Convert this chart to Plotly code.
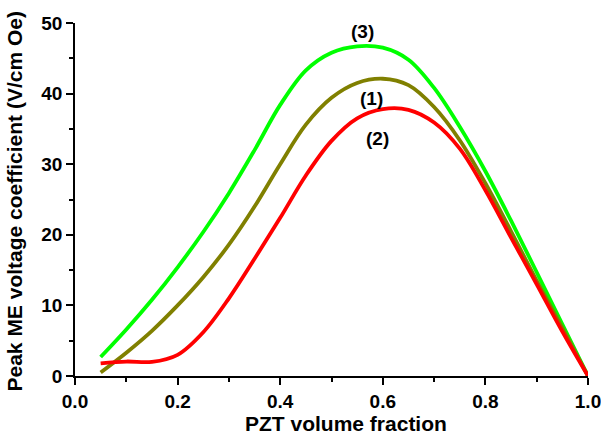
import plotly.graph_objects as go

# PZT volume fraction sample points
x_vals = [0.05, 0.10, 0.15, 0.20, 0.25, 0.30, 0.35, 0.40, 0.45, 0.50,
          0.55, 0.60, 0.65, 0.70, 0.75, 0.80, 0.85, 0.90, 0.95, 1.00]

# Curve (1) - olive
curve1 = [0.5, 3.3, 6.4, 10.0, 14.0, 18.6, 24.0, 30.0, 35.6, 39.4,
          41.5, 42.1, 41.2, 38.1, 33.4, 27.3, 20.5, 13.5, 6.8, 0.0]

# Curve (2) - red
curve2 = [1.8, 2.05, 2.0, 3.0, 6.2, 11.0, 16.6, 22.4, 28.4, 33.3,
          36.5, 37.8, 37.7, 35.9, 32.2, 26.3, 19.6, 13.0, 6.3, 0.0]

# Curve (3) - green
curve3 = [2.7, 6.6, 10.8, 15.4, 20.4, 25.9, 32.0, 38.4, 43.3, 45.8,
          46.7, 46.5, 44.8, 40.8, 35.3, 29.0, 22.0, 14.7, 7.3, 0.0]

# Curve labels
label_text = ["(3)", "(1)", "(2)"]
label_x = [0.561, 0.578, 0.589]
label_y = [48.8, 39.3, 33.6]

x_title = "PZT volume fraction"
y_title = "Peak ME voltage coefficient (V/cm Oe)"

FONT = "Liberation Sans, Arial, sans-serif"
FS = 21
TFS = 19

fig = go.Figure()
for ys, col, nm in [(curve3, "#00FF00", "(3)"), (curve1, "#808000", "(1)"), (curve2, "#FF0000", "(2)")]:
    fig.add_trace(go.Scatter(x=x_vals, y=ys, mode="lines",
                             line=dict(color=col, width=3.8, shape="spline", smoothing=1.0),
                             name=nm, showlegend=False))

for t, lx, ly in zip(label_text, label_x, label_y):
    fig.add_annotation(x=lx, y=ly, text=t, showarrow=False,
                       font=dict(family=FONT, size=19, color="black", weight="bold"))

# axis titles placed as annotations for exact positioning
fig.add_annotation(xref="paper", yref="paper", x=0.5, y=0, yanchor="middle", yshift=-47, xshift=14,
                   text=x_title, showarrow=False,
                   font=dict(family=FONT, size=FS, color="black", weight="bold"))
fig.add_annotation(xref="paper", yref="paper", x=0, y=0.5, xanchor="center", xshift=-61, yshift=-2,
                   textangle=-90, text=y_title, showarrow=False,
                   font=dict(family=FONT, size=FS, color="black", weight="bold"))

fig.update_layout(
    width=601, height=436,
    margin=dict(l=75, r=13, t=23, b=60),
    paper_bgcolor="white", plot_bgcolor="white",
    font=dict(family=FONT, color="black"),
)

fig.update_xaxes(
    range=[0, 1], dtick=0.2, tick0=0, tickformat=".1f", automargin=False,
    ticklabeloverflow="allow",
    showgrid=False, zeroline=False,
    showline=True, linecolor="black", linewidth=1.5,
    ticks="outside", ticklen=7, tickwidth=1.5, tickcolor="black",
    tickfont=dict(family=FONT, size=TFS, color="black", weight="bold"),
    minor=dict(dtick=0.1, ticks="outside", ticklen=4, tickwidth=1.5, tickcolor="black", showgrid=False),
)
fig.update_yaxes(
    range=[0, 50], dtick=10, tick0=0, automargin=False,
    ticklabeloverflow="allow",
    showgrid=False, zeroline=False,
    showline=True, linecolor="black", linewidth=1.5,
    ticks="outside", ticklen=7, tickwidth=1.5, tickcolor="black",
    tickfont=dict(family=FONT, size=TFS, color="black", weight="bold"),
    minor=dict(dtick=5, ticks="outside", ticklen=4, tickwidth=1.5, tickcolor="black", showgrid=False),
)

fig.write_html("out.html")
